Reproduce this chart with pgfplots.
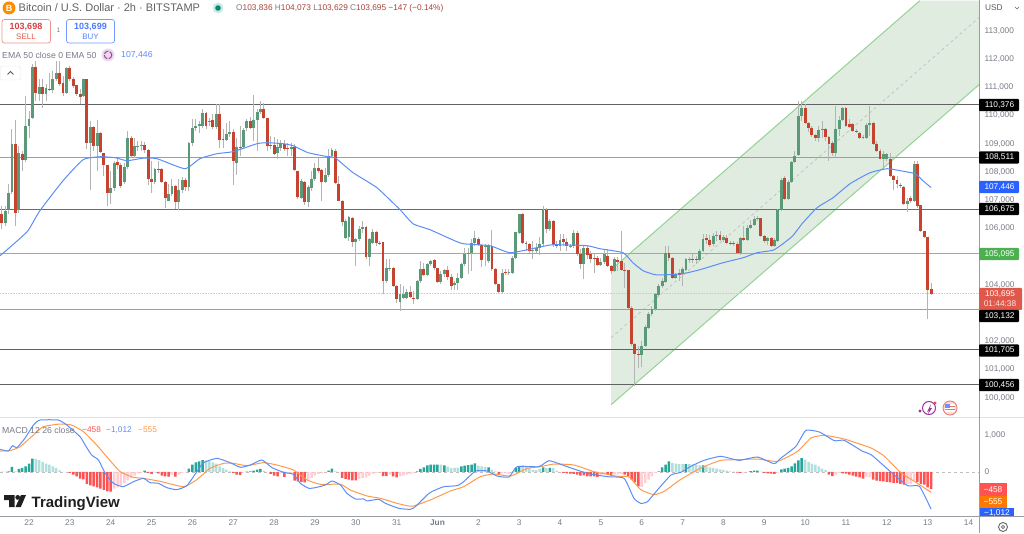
\documentclass[border=0pt]{standalone}
\usepackage{pgfplots}
\usepackage{pgfplotstable}
\usepackage{fontspec}
\setmainfont{Liberation Sans}
\pgfplotsset{compat=1.18}

\definecolor{upc}{HTML}{5A9A78}
\definecolor{dnc}{HTML}{C5432F}
\definecolor{wick}{HTML}{B4B4B4}
\definecolor{emac}{HTML}{5C8DF6}
\definecolor{chfill}{HTML}{E0ECE0}
\definecolor{chline}{HTML}{93D395}
\definecolor{txt}{HTML}{787B86}
\definecolor{sep}{HTML}{9A9DA6}
\definecolor{tvblue}{HTML}{2962FF}
\definecolor{tvgreen}{HTML}{4CAF50}
\definecolor{tvred}{HTML}{E0584A}
\definecolor{macdb}{HTML}{5C8DF6}
\definecolor{macdo}{HTML}{FF9A4D}
\definecolor{h1}{HTML}{26A69A}
\definecolor{h2}{HTML}{B2DFDB}
\definecolor{h3}{HTML}{FF5252}
\definecolor{h4}{HTML}{FFCDD2}

% bar index, then open high low close
\pgfplotstableread{
i o h l c
-8 106519 106802 105988 106200
-7 106200 106802 106094 106625
-6 106661 107581 106519 107262
-5 107298 109530 107227 108998
-4 108998 109848 106094 106554
-3 106661 108927 106554 108679
-2 108644 108750 108042 108431
-1 108431 110698 108361 109636
0 109636 110167 109211 109884
1 109919 111832 109884 111725
2 111725 111938 110521 110804
3 110769 111301 110521 111016
4 111016 111301 110273 110769
5 110769 111123 110521 110981
6 110946 111513 110875 110910
7 110910 111584 110804 111301
8 111301 111938 111229 111513
9 111513 111938 111052 111123
10 111158 111407 110698 110804
11 110804 111725 110769 111690
12 111690 111761 111229 111301
13 111301 111371 110981 111052
14 111087 111087 110698 110769
15 110769 110946 110415 110662
16 110698 111301 110662 111301
17 111301 111301 108821 109033
18 109033 109813 107368 109600
19 109600 109636 108750 108927
20 108927 109848 108042 109388
21 109388 109424 108679 108715
22 108679 108679 107865 108254
23 108254 108254 106802 107262
24 107262 108042 106873 107439
25 107439 108396 107333 108325
26 108361 108502 108113 108254
27 108254 108325 107439 107510
28 107652 108325 107581 108183
29 108183 109459 108113 109211
30 109211 109282 108502 108573
31 108573 109211 108502 108927
32 108892 109104 108750 108927
33 108927 109104 108750 108963
34 108963 109069 108679 108785
35 108785 108821 107546 107758
36 107758 108396 107262 107652
37 107652 108148 107581 108113
38 108113 108396 107971 108077
39 108113 108148 107617 107652
40 107652 107687 106731 107085
41 106979 107581 106979 107227
42 107227 107758 107156 107510
43 107510 107546 106696 106944
44 106944 107758 106661 107368
45 107368 107829 107262 107723
46 107723 107794 107333 107475
47 107475 109069 107333 109033
48 109033 109884 108927 109565
49 109565 109884 109459 109636
50 109636 109813 109388 109707
51 109636 110238 109565 110096
52 110096 110132 109530 109636
53 109778 109919 109636 109813
54 109848 110061 109530 109600
55 109600 110415 109530 110061
56 110061 110415 108856 109140
57 109176 109530 108856 109140
58 109140 109742 109104 109353
59 109353 109813 109246 109424
60 109424 109530 107546 108396
61 108325 109211 107900 108892
62 108892 109636 108573 108856
63 108892 109565 108821 109494
64 109565 109884 109459 109813
65 109813 109954 109530 109565
66 109565 110733 109104 109848
67 109848 110238 108750 110132
68 110132 110521 110061 110238
69 110238 110450 109884 109919
70 109919 109919 108750 108927
71 108963 109282 108821 108927
72 108963 109246 108608 108644
73 108679 109176 108467 108892
74 108856 109140 108750 109033
75 108998 109140 108750 108821
76 108856 109033 108573 108821
77 108821 109033 108573 108892
78 108892 108998 108042 108077
79 108042 108042 107050 107121
80 107085 107758 107050 107687
81 107652 107687 106838 106944
82 106944 107546 106767 107475
83 107439 108042 107333 107758
84 107758 108325 107687 108148
85 108148 108502 107971 108042
86 108077 108113 106979 107652
87 107652 108148 107617 107900
88 107900 108821 107829 108573
89 108573 108856 108502 108785
90 108750 108821 107581 107617
91 107581 107865 106979 106979
92 106979 107014 106094 106235
93 105668 106342 105633 106271
94 105704 106448 105562 106413
95 106377 106413 105350 105527
96 105527 105668 104677 105633
97 105633 106094 105562 105988
98 105988 106271 105846 106059
99 106059 106094 104925 104996
100 104996 105668 104677 105633
101 105491 105988 105456 105881
102 105881 105917 105385 105491
103 105491 105562 105420 105475
104 105527 105527 103685 104145
105 104145 104925 104074 104606
106 104571 104925 104500 104606
107 104606 104641 103933 103968
108 103968 104004 103366 103508
109 103402 104039 103083 103685
110 103543 103968 103508 103685
111 103543 103862 103508 103756
112 103756 103968 103543 103579
113 103543 103791 103331 103508
114 103508 104181 103472 104145
115 104145 104854 104074 104571
116 104571 104783 104323 104358
117 104358 104783 104323 104748
118 104748 104889 104677 104854
119 104889 104925 104535 104606
120 104606 104606 104074 104110
121 104110 104500 104039 104393
122 104393 104571 104287 104535
123 104535 104677 104181 104287
124 104287 104393 103826 103968
125 104004 104145 103826 104074
126 104074 104429 103826 104252
127 104252 104783 104216 104748
128 104748 105314 104677 105102
129 105102 105314 104393 105137
130 105137 105633 104500 105491
131 105491 105917 105385 105668
132 105633 105704 105385 105420
133 105420 105420 104641 104889
134 105380 105456 104677 105385
135 104854 105456 104783 105385
136 105385 105952 104500 104571
137 104571 104606 104004 104039
138 104039 104039 103720 103756
139 103756 104571 103720 104429
140 104464 104571 104358 104429
141 104429 104571 104358 104464
142 104429 105031 104393 104960
143 104960 105881 104925 105881
144 105846 106519 105810 106519
145 106519 106554 105456 105491
146 105491 105562 105208 105456
147 105456 105491 105137 105208
148 105208 105562 104925 105243
149 105208 105491 105137 105314
150 105314 105704 105066 105456
151 105456 106802 105385 106661
152 106661 106731 105846 105988
153 105988 106342 105917 106271
154 106271 106306 105350 105420
155 105420 105562 105314 105385
156 105385 105810 105208 105598
157 105633 105810 105385 105527
158 105527 105668 105208 105385
159 105368 105456 105314 105385
160 105385 105952 105314 105846
161 105846 105917 105031 105102
162 105102 105279 104571 104748
163 104748 105385 104216 105314
164 105314 105385 104925 105066
165 105102 105208 104783 104925
166 104960 105102 104429 104925
167 104960 105031 104677 104712
168 104712 104960 104677 104819
169 104819 105243 104748 105102
170 105031 105279 104641 104677
171 104677 104712 104393 104500
172 104500 104996 104464 104925
173 104889 104996 104500 104819
174 104854 105917 104500 104535
175 104535 104783 103897 104517
176 104535 104535 103154 103189
177 103189 103260 101843 101914
178 101914 101949 100426 101560
179 101560 101843 101064 101524
180 101524 102020 101099 101843
181 101843 102587 101808 102516
182 102481 103047 102445 102977
183 102977 103260 102906 103154
184 103154 103720 103083 103685
185 103650 104039 103614 103968
186 103968 104252 103897 104145
187 104110 105385 104074 105137
188 105137 105385 104854 104960
189 104960 104996 104216 104252
190 104252 104429 104216 104393
191 104429 104571 104145 104358
192 104393 104641 103968 104571
193 104535 104960 104500 104925
194 104889 104996 104783 104925
195 104925 105102 104783 104907
196 104925 105031 104748 104889
197 104889 105279 104854 105208
198 105208 105810 105173 105633
199 105668 105810 105456 105598
200 105598 105775 105350 105420
201 105456 105846 105385 105739
202 105739 105917 105562 105775
203 105775 105917 105562 105598
204 105598 105775 105527 105704
205 105668 105775 105456 105491
206 105491 105562 105420 105473
207 105491 105562 105385 105456
208 105456 105527 105102 105137
209 105137 105704 105066 105668
210 105668 106094 105562 105598
211 105598 106129 105562 106023
212 106023 106306 105988 106129
213 106129 106448 106094 106342
214 106342 106448 106271 106360
215 106377 106377 105704 105739
216 105739 105775 105491 105562
217 105562 105704 105420 105668
218 105668 105704 105350 105385
219 105385 105668 105350 105598
220 105562 106696 105527 106661
221 106661 107794 106625 107723
222 107794 107865 107014 107050
223 107050 107723 107014 107652
224 107652 108396 107617 108361
225 108361 108750 108325 108573
226 108608 110521 108573 109990
227 109990 110521 109813 110273
228 110273 110415 109707 109742
229 109742 109778 109424 109565
230 109565 109636 109246 109317
231 109317 109353 109104 109211
232 109211 109636 109069 109494
233 109494 109813 109211 109530
234 109530 109565 109104 109246
235 109246 109282 108396 108998
236 109033 109104 108573 108679
237 108679 110344 108502 109530
238 109530 109990 109282 109848
239 109848 110308 109813 110273
240 110273 110308 109600 109636
241 109707 109884 109565 109600
242 109707 109742 109424 109459
243 109459 109530 109388 109424
244 109388 109424 109176 109211
245 109211 109317 109176 109246
246 109211 109742 109176 109671
247 109671 110344 109282 109742
248 109742 109778 108963 108998
249 108998 109104 108715 108750
250 108750 108821 108467 108467
251 108467 108750 108113 108644
252 108467 108679 108396 108644
253 108467 108679 107829 107865
254 107865 107900 107368 107723
255 107723 107865 107439 107581
256 107546 107617 107439 107510
257 107475 107510 106838 106873
258 106873 107085 106590 106979
259 107085 107156 106908 106979
260 106979 108396 106944 108290
261 108290 108396 106731 106802
262 106838 106838 105881 105917
263 105917 105917 105668 105704
264 105704 105704 102800 103836
265 103836 104073 103629 103695
}\candles

% bar index, kind (1 rising teal, 2 falling teal, 3 falling red, 4 rising red), value
\pgfplotstableread{
i k v
-8 2 10
-7 2 10
-6 1 20
-5 1 136
-4 2 18
-3 1 82
-2 1 109
-1 1 154
0 1 226
1 1 362
2 2 353
3 2 326
4 2 272
5 2 226
6 2 199
7 2 154
8 2 109
9 2 45
10 2 5
11 4 -10
12 3 -27
13 3 -72
14 3 -118
15 3 -181
16 3 -200
17 3 -326
18 3 -362
19 3 -390
20 3 -417
21 3 -453
22 3 -489
23 3 -525
24 3 -535
25 4 -453
26 4 -417
27 4 -362
28 4 -299
29 4 -226
30 4 -163
31 4 -100
32 4 -36
33 4 -18
34 1 36
35 3 -27
36 3 -54
37 4 -18
38 3 -36
39 3 -100
40 3 -118
41 3 -127
42 4 -72
43 3 -127
44 4 -72
45 4 -27
46 4 -9
47 1 91
48 1 199
49 1 263
50 1 290
51 1 326
52 2 317
53 2 290
54 2 263
55 2 226
56 2 154
57 2 109
58 2 63
59 2 18
60 3 -27
61 3 -72
62 3 -82
63 4 -9
64 1 9
65 1 18
66 1 36
67 1 63
68 1 82
69 2 36
70 2 5
71 3 -54
72 3 -100
73 3 -118
74 4 -27
75 3 -136
76 4 -54
77 4 -45
78 3 -236
79 3 -254
80 3 -272
81 3 -281
82 4 -208
83 4 -163
84 4 -100
85 4 -54
86 4 -36
87 4 -5
88 1 36
89 1 91
90 2 18
91 4 -5
92 3 -163
93 3 -190
94 3 -208
95 3 -226
96 3 -226
97 4 -190
98 4 -163
99 4 -145
100 4 -100
101 4 -54
102 4 -27
103 4 -9
104 3 -109
105 3 -109
106 4 -72
107 3 -118
108 3 -145
109 4 -118
110 4 -91
111 4 -72
112 4 -54
113 4 -27
114 1 18
115 1 82
116 1 127
117 1 181
118 1 199
119 1 199
120 1 199
121 2 199
122 1 181
123 2 145
124 2 109
125 2 109
126 2 118
127 1 154
128 1 172
129 1 190
130 1 199
131 1 236
132 2 172
133 2 154
134 2 136
135 1 127
136 2 63
137 2 18
138 3 -72
139 4 -36
140 4 -36
141 4 -54
142 4 -36
143 1 109
144 1 154
145 2 181
146 2 154
147 2 109
148 2 63
149 2 54
150 2 91
151 1 127
152 2 109
153 1 109
154 2 109
155 2 36
156 2 5
157 3 -27
158 3 -36
159 3 -45
160 3 -54
161 3 -72
162 3 -100
163 3 -91
164 3 -118
165 3 -118
166 3 -118
167 3 -136
168 4 -72
169 4 -54
170 3 -72
171 3 -109
172 4 -72
173 4 -72
174 4 -54
175 3 -72
176 3 -118
177 3 -208
178 3 -281
179 3 -390
180 4 -408
181 4 -299
182 4 -208
183 4 -118
184 4 -27
185 1 18
186 1 127
187 1 199
188 1 290
189 2 245
190 2 226
191 2 217
192 2 217
193 1 217
194 2 217
195 2 208
196 2 199
197 2 181
198 1 181
199 2 154
200 2 127
201 2 109
202 2 91
203 2 72
204 2 54
205 2 36
206 2 18
207 2 9
208 3 -18
209 3 -27
210 4 -18
211 4 -5
212 1 27
213 1 36
214 1 36
215 2 9
216 3 -27
217 3 -36
218 3 -45
219 3 -54
220 4 -18
221 1 72
222 1 91
223 1 109
224 1 154
225 1 236
226 1 317
227 1 380
228 2 335
229 2 272
230 2 226
231 2 199
232 2 154
233 2 91
234 2 54
235 3 -72
236 3 -109
237 4 -72
238 4 -27
239 3 -36
240 3 -45
241 3 -72
242 3 -100
243 3 -127
244 3 -145
245 3 -181
246 4 -136
247 4 -145
248 3 -208
249 3 -236
250 3 -245
251 3 -254
252 3 -272
253 3 -281
254 3 -299
255 3 -299
256 3 -326
257 3 -344
258 4 -326
259 4 -326
260 4 -236
261 3 -272
262 3 -326
263 3 -344
264 3 -417
265 3 -458
}\hist

\newcommand{\fs}[1]{\fontsize{#1}{#1}\selectfont}
% right-hand price tag: colour, centre y, text
\newcommand{\ptag}[3]{%
  \fill[#1,rounded corners=1pt] (979,#2-6.2) rectangle (1019,#2+6.2);
  \node[white,anchor=center,inner sep=0] at (999.5,#2) {\fs{8.3}#3};}

\pgfplotsset{
  candle/.style={draw=none,mark=none,forget plot,error bars/y dir=minus,error bars/y explicit,error bars/error mark=none},
  histbar/.style={ybar,bar width=2.5pt,bar shift=0pt,draw=none,fill=#1,forget plot},
}

\begin{document}
\begin{tikzpicture}
\path[use as bounding box] (0,0) rectangle (1024pt,533pt);

% price panel
\begin{axis}[
  at={(0pt,115.3pt)},anchor=south west,
  scale only axis,width=979pt,height=417pt,
  xmin=-8.52,xmax=279.08,ymin=99293,ymax=114063,
  axis line style={draw=none},
  major tick length=0pt,
  xtick=\empty,
  ytick={100000,101000,102000,104000,106000,107000,108000,109000,110000,111000,112000,113000},
  yticklabel pos=right,
  scaled y ticks=false,
  yticklabel style={font=\fs{8.3},text=txt,xshift=2pt,
    /pgf/number format/.cd,assume math mode=true,fixed,precision=0,1000 sep={,}},
]
% channel
\addplot[draw=none,fill=chfill,forget plot] coordinates {(171,99753)(171,104535)(261.7,114063)(279.08,114063)(279.08,111088)} -- cycle;
\addplot[chline,line width=1pt,forget plot] coordinates {(171,104535)(261.7,114063)};
\addplot[chline,line width=1pt,forget plot] coordinates {(171,99753)(279.08,111088)};
\addplot[black!25,dashed,line width=0.7pt,forget plot] coordinates {(171,102127)(279.08,113461)};
% levels
\addplot[black!62,line width=1pt,forget plot] coordinates {(-8.52,110376)(279.08,110376)};
\addplot[black!38,line width=1.6pt,forget plot] coordinates {(-8.52,108511)(279.08,108511)};
\addplot[black!58,line width=1pt,forget plot] coordinates {(-8.52,106675)(279.08,106675)};
\addplot[tvgreen!75,line width=1pt,forget plot] coordinates {(-8.52,105095)(279.08,105095)};
\addplot[black!38,line width=1.6pt,forget plot] coordinates {(-8.52,103132)(279.08,103132)};
\addplot[black!62,line width=1pt,forget plot] coordinates {(-8.52,101705)(279.08,101705)};
\addplot[black!62,line width=1pt,forget plot] coordinates {(-8.52,100456)(279.08,100456)};
\addplot[tvred!40,densely dotted,line width=0.6pt,forget plot] coordinates {(-8.52,103695)(279.08,103695)};
% wicks
\addplot[draw=none,mark=none,forget plot,error bars/.cd,y dir=both,y explicit,error mark=none,
  error bar style={line width=1pt,color=wick}]
  table[x=i,y=c,y error plus expr=\thisrow{h}-\thisrow{c},y error minus expr=\thisrow{c}-\thisrow{l}] {\candles};
% bodies
\addplot[candle,x filter/.expression={\thisrow{c}>=\thisrow{o}?x:nan},
  error bars/error bar style={line width=2.9pt,color=upc}]
  table[x=i,y=c,y error minus expr=\thisrow{c}-\thisrow{o}+18] {\candles};
\addplot[candle,x filter/.expression={\thisrow{c}<\thisrow{o}?x:nan},
  error bars/error bar style={line width=2.9pt,color=dnc}]
  table[x=i,y=o,y error minus expr=\thisrow{o}-\thisrow{c}+18] {\candles};
% EMA 50
\addplot[emac,line width=1pt,smooth,tension=0.3,forget plot] coordinates {
(-8.5,105031)(-4.4,105456)(-0.3,105917)(3.2,106625)(10,107687)(15.9,108431)(20.9,108537)(25.3,108502)
(28.8,108396)(33.5,108484)(37.6,108467)(45.8,108112)(50.2,108467)(55.2,108644)(59.9,108715)(67,108998)
(69.9,109033)(74.6,108998)(77.6,108927)(82,108679)(87.8,108537)(89.9,108502)(95.2,107971)(102.2,107440)
(109,106660)(112.8,106164)(117.8,105952)(123.7,105633)(127.5,105456)(135.4,105385)(141.3,105137)
(149.2,105314)(153.9,105420)(163.9,105385)(167.7,105279)(174.5,105137)(177.4,104783)(180.4,104500)
(183.9,104358)(187.4,104358)(192.1,104393)(197.1,104535)(203.9,104783)(209.8,104960)(213.9,105137)
(218.6,105226)(221.5,105456)(224.4,105739)(227.1,106164)(231.5,106731)(236.2,107085)(241.2,107581)
(247.1,107971)(252.1,108112)(255.9,108042)(260.3,107935)(262.6,107687)(265,107446)};
\end{axis}

% MACD panel
\begin{axis}[
  at={(0pt,17pt)},anchor=south west,
  scale only axis,width=979pt,height=99pt,
  xmin=-8.52,xmax=279.08,ymin=-1197,ymax=1496,
  axis line style={draw=none},
  major tick length=0pt,
  xtick={0,12,...,276},
  xticklabels={22,23,24,25,26,27,28,29,30,31,\textbf{Jun},2,3,4,5,6,7,8,9,10,11,12,13,14},
  xticklabel pos=lower,
  xticklabel style={font=\fs{8.3},text=txt,yshift=-0.5pt},
  ytick={0,1000},
  yticklabel pos=right,
  scaled y ticks=false,
  yticklabel style={font=\fs{8.3},text=txt,xshift=2pt,
    /pgf/number format/.cd,assume math mode=true,fixed,precision=0,1000 sep={,}},
]
\addplot[black!25,dashed,line width=0.6pt,forget plot] coordinates {(-8.52,0)(279.08,0)};
\addplot[histbar=h1,x filter/.expression={\thisrow{k}==1?x:nan}] table[x=i,y=v] {\hist};
\addplot[histbar=h2,x filter/.expression={\thisrow{k}==2?x:nan}] table[x=i,y=v] {\hist};
\addplot[histbar=h3,x filter/.expression={\thisrow{k}==3?x:nan}] table[x=i,y=v] {\hist};
\addplot[histbar=h4,x filter/.expression={\thisrow{k}==4?x:nan}] table[x=i,y=v] {\hist};
% signal
\addplot[macdo,line width=1pt,smooth,tension=0.3,forget plot] coordinates {
(-8.5,571)(-5.6,580)(-2.6,689)(1.3,1006)(4.2,1232)(9.1,1305)(12.5,1277)(16,1096)(19.9,734)(22.8,417)
(26.8,9)(30.7,-145)(33.6,-172)(38.5,-254)(45.4,-399)(49.3,-208)(53.2,100)(57.2,236)(60.1,236)(64,172)
(68.9,254)(72.8,190)(77.7,54)(81.7,-217)(85.6,-335)(91.5,-335)(94.4,-489)(99.3,-652)(103.2,-716)
(108.1,-852)(112.5,-933)(117.9,-761)(123.8,-516)(127.7,-399)(132.6,-127)(136.6,-54)(141.5,-109)
(146.4,100)(150.3,145)(154.2,217)(160.1,190)(166,9)(172.8,-118)(176.3,-136)(179.7,-480)(183.6,-616)
(186.6,-525)(191.5,-199)(197.4,109)(203.2,317)(208.6,335)(214,353)(219.9,290)(225.8,562)(229.7,924)
(233.6,997)(239.5,897)(247.4,652)(251.3,426)(256.2,-27)(260.1,-254)(265,-555)};
% MACD
\addplot[macdb,line width=1pt,smooth,tension=0.3,forget plot] coordinates {
(-8.5,616)(-6.1,571)(-4.8,716)(-3.6,661)(-1.2,915)(1.3,1277)(3.2,1413)(8.6,1413)(11.1,1277)(15,961)
(16.5,734)(18.4,462)(20.4,326)(22.4,-36)(24.8,-308)(27.7,-399)(30.7,-263)(33.6,-172)(35.6,-290)(38,-308)
(40.5,-426)(43.4,-480)(46.4,-371)(49.3,9)(51.3,254)(55.2,371)(59.1,254)(62.1,127)(65,190)(68.4,326)
(71.4,118)(74.8,-9)(77.7,-63)(79.7,-308)(82.2,-444)(84.1,-426)(87.1,-353)(89,-245)(91.5,-353)(93.4,-580)
(95.9,-734)(98.3,-734)(99.3,-788)(102.7,-743)(104.7,-852)(108.6,-988)(112,-1015)(113.5,-942)(117.5,-580)
(119.4,-489)(121.9,-399)(125.8,-371)(127.7,-263)(131.2,27)(134.6,27)(137.5,-109)(141,-136)(143.4,145)
(149.8,145)(152.8,308)(158.1,145)(164,-36)(169.9,-127)(174.8,-172)(177.7,-716)(179.7,-852)(181.7,-806)
(184.6,-489)(188.6,-82)(191.5,-9)(194.4,154)(198.3,317)(203.2,426)(208.6,317)(214,408)(218.9,226)
(220.9,380)(225.3,698)(228.2,1132)(232.2,1087)(236.6,852)(239.5,861)(244.9,562)(247.4,471)(253.2,0)
(258.1,-371)(261.6,-390)(265,-1012)};
\end{axis}

% furniture, in image pixels
\begin{scope}[shift={(0pt,533pt)},x=1pt,y=-1pt]
\draw[black!12,line width=1pt] (0,417) -- (1024,417);
\draw[sep,line width=1pt] (0,516.5) -- (1024,516.5);
\draw[sep,line width=1pt] (979,0) -- (979,533);

% header
\fill[orange!90!yellow] (9,8) circle (6.5);
\node[white,inner sep=0] at (9,8) {\fs{9}\bfseries B};
\node[anchor=west,inner sep=0,text=black!62] at (18.5,8) {\fs{11}Bitcoin / U.S. Dollar · 2h · BITSTAMP};
\fill[teal!18] (218,8) circle (5.5);
\fill[teal!90!green] (218,8) circle (2.8);
\node[anchor=west,inner sep=0] at (236,8) {\fs{8.3}\color{txt}O\color{tvred!75!black}103,836 \color{txt}H\color{tvred!75!black}104,073 \color{txt}L\color{tvred!75!black}103,629 \color{txt}C\color{tvred!75!black}103,695 −147 (−0.14\%)};
\draw[tvred!65,rounded corners=2.5pt,line width=0.7pt] (2,19.5) rectangle (50.5,43);
\node[inner sep=0,text=red!80!black!75] at (26,27) {\fs{9}\bfseries 103,698};
\node[inner sep=0,text=tvred] at (26,37) {\fs{8}SELL};
\node[inner sep=0,text=txt] at (58.5,30.5) {\fs{6.5}1};
\draw[tvblue!65,rounded corners=2.5pt,line width=0.7pt] (66.5,19.5) rectangle (114.5,43);
\node[inner sep=0,text=tvblue!85] at (90.5,27) {\fs{9}\bfseries 103,699};
\node[inner sep=0,text=tvblue!80] at (90.5,37) {\fs{8}BUY};
\node[anchor=west,inner sep=0,text=txt] at (2,55) {\fs{8.7}EMA 50 close 0 EMA 50};
\fill[violet!15] (108,55) circle (6.5);
\draw[violet!75,line width=1pt,dash pattern=on 5pt off 1.4pt] (108,55) circle (3.8);
\node[anchor=west,inner sep=0,text=tvblue!75] at (121,55) {\fs{8.7}107,446};
\draw[black!10,fill=white,rounded corners=2pt] (0.5,66) rectangle (20.5,80);
\draw[black!65,line width=0.8pt] (7.5,74.5) -- (10.5,71.5) -- (13.5,74.5);
\node[anchor=west,inner sep=0,text=black!65] at (985,8) {\fs{8.3}USD};
\draw[black!60,line width=0.6pt] (1015,7) -- (1017,9) -- (1019,7);

% tags
\ptag{black}{105}{110,376}
\ptag{black}{157.5}{108,511}
\ptag{tvblue}{187}{107,446}
\ptag{black}{209}{106,675}
\ptag{tvgreen}{254}{105,095}
\fill[tvred,rounded corners=1pt] (979,288) rectangle (1022,310);
\node[white,inner sep=0] at (1000,294) {\fs{8.3}103,695};
\node[white!85!tvred,inner sep=0] at (1000,304) {\fs{8.3}01:44:38};
\ptag{black}{316}{103,132}
\ptag{black}{350.5}{101,705}
\ptag{black}{385}{100,456}

% indicator tags
\fill[h3] (979.5,483) rectangle (1007,496);
\node[white,inner sep=0] at (993,489.5) {\fs{8.3}−458};
\fill[orange!95!red] (979.5,496) rectangle (1007,508);
\node[white,inner sep=0] at (993,502) {\fs{8.3}−555};
\fill[tvblue] (979.5,508) rectangle (1014,516);
\begin{scope}
\clip (979.5,508) rectangle (1014,516);
\node[white,inner sep=0] at (997,513) {\fs{8.3}−1,012};
\end{scope}

% MACD legend
\node[anchor=west,inner sep=0,text=txt] at (2,430) {\fs{8.7}MACD 12 26 close};
\node[anchor=west,inner sep=0,text=h3] at (82,430) {\fs{8.3}−458};
\node[anchor=west,inner sep=0,text=macdb] at (106,430) {\fs{8.3}−1,012};
\node[anchor=west,inner sep=0,text=macdo] at (138,430) {\fs{8.3}−555};

% logo
\fill[black!88] (4,495) -- (14.5,495) -- (14.5,507) -- (9,507) -- (9,500) -- (4,500) -- cycle;
\fill[black!88] (17.7,497.4) circle (2.4);
\fill[black!88] (21,495) -- (26,495) -- (20.8,507) -- (15.5,507) -- cycle;
\node[anchor=base west,inner sep=0,text=black!88] at (31.5,507) {\fs{15}\bfseries TradingView};

% small icons
\draw[violet!80,line width=1pt] (929,408) circle (6.5);
\fill[violet!80] (927,412) -- (931,404) -- (930,408) -- (932,408) -- (928,414) -- (929,410) -- cycle;
\fill[violet!80] (920,411) circle (1.6);
\fill[red!75] (935,403) circle (1.7);
\fill[red!15] (950,408) circle (7.5);
\draw[tvred!80,line width=0.8pt] (950,408) circle (7);
\fill[white] (945,404) rectangle (955,412);
\fill[tvred!80] (945,406) rectangle (955,407.2);
\fill[tvred!80] (945,409) rectangle (955,410.2);
\fill[tvblue!70] (945,404) rectangle (949.5,407.5);

% settings
\draw[black!60,line width=0.9pt] (1003,527) circle (4.5);
\draw[black!60,line width=0.8pt] (1003,527) circle (1.6);
\end{scope}
\end{tikzpicture}
\end{document}
